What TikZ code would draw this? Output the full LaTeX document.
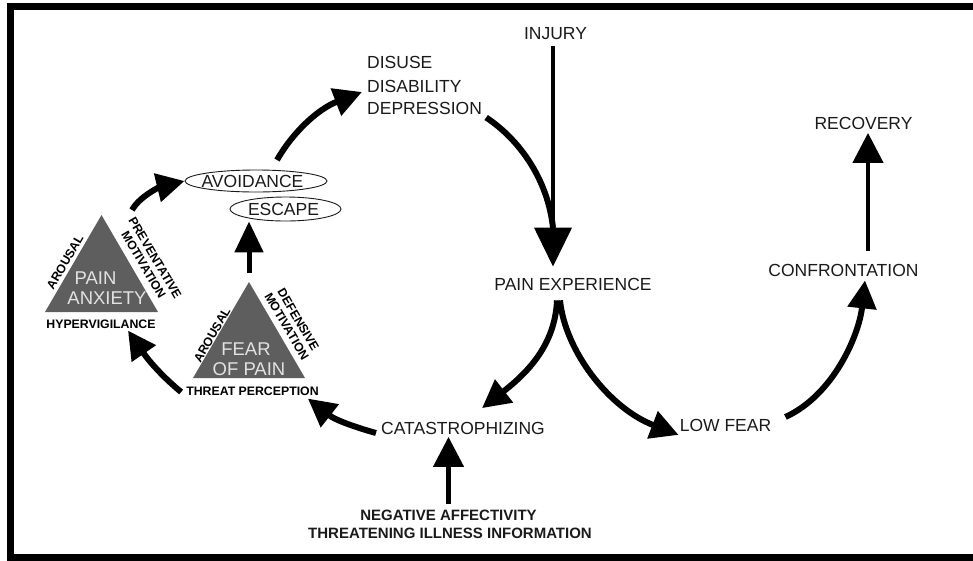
\documentclass[tikz,border=0pt]{standalone}
\usepackage{fontspec}
\setmainfont{Liberation Sans}
\usetikzlibrary{arrows.meta,shapes.geometric,calc}
\definecolor{trigray}{HTML}{5E5E5E}
\definecolor{trilight}{HTML}{E2E2E2}
\definecolor{inkc}{HTML}{1A1A1A}
\begin{document}
\begin{tikzpicture}[x=1pt,y=-1pt,
  lbl/.style={font=\fontsize{17.5}{20}\selectfont, inner sep=0pt, text=inkc},
  small/.style={font=\bfseries\fontsize{12.3}{13.4}\selectfont, inner sep=0pt, align=center, text=black},
  bottomtxt/.style={font=\bfseries\fontsize{15}{17}\selectfont, inner sep=0pt, text=inkc},
  tritext/.style={font=\fontsize{18.5}{20}\selectfont, inner sep=0pt, text=trilight},
  oval/.style={ellipse, draw=inkc, line width=0.9pt, inner sep=0pt},
  trifill/.style={fill=trigray},
  bigarr/.style={line width=6pt, draw=black, -{Triangle[length=28pt,width=28pt]}},
  thinarr/.style={line width=4.5pt, draw=black, -{Triangle[length=30pt,width=30pt]}},
  plainthick/.style={line width=6pt, draw=black}
]
\useasboundingbox (0,0) rectangle (973,560);
\begin{scope}
  \clip (0,0) rectangle (973,560);
  \draw[line width=7pt] (10.5,6.8) rectangle (995,557.5);
\end{scope}

% ---------- text nodes ----------
\node[lbl] (injury) at (555.5,34) {INJURY};
\node[lbl,anchor=west] (disuse) at (367,62.5) {DISUSE};
\node[lbl,anchor=west] (disab) at (367,86.5) {DISABILITY};
\node[lbl,anchor=west] (depr) at (367,108.5) {DEPRESSION};
\node[lbl] (pe) at (573,284) {PAIN EXPERIENCE};
\node[lbl] (cat) at (463,428.5) {CATASTROPHIZING};
\node[lbl] (low) at (725.5,425) {LOW FEAR};
\node[lbl] (conf) at (843.5,270) {CONFRONTATION};
\node[lbl] (recov) at (863.5,123.5) {RECOVERY};
\node[bottomtxt] (neg) at (448.5,515) {NEGATIVE AFFECTIVITY};
\node[bottomtxt] (thr) at (450,533) {THREATENING ILLNESS INFORMATION};

% ---------- ellipses ----------
\node[oval, minimum width=142pt, minimum height=22pt] (avoid) at (256,181) {};
\node[lbl] (avoidtxt) at (252.5,181) {AVOIDANCE};
\node[oval, minimum width=111pt, minimum height=24pt] (esc) at (285.5,209) {};
\node[lbl] (esctxt) at (283.5,209) {ESCAPE};

% ---------- pain anxiety triangle ----------
\coordinate (pa1) at (45,312);
\coordinate (pa2) at (158,312);
\coordinate (pa3) at (101.5,215);
\fill[trifill] (pa1) -- (pa2) -- (pa3) -- cycle;
\node[tritext] (pain) at (95.5,278.5) {PAIN};
\node[tritext] (anx) at (107,298.5) {ANXIETY};
\node[small] (hyper) at (101,324) {HYPERVIGILANCE};
\node[small, rotate=59.6] (ar1) at (65,262) {AROUSAL};
\node[small, rotate=-59.6] (pm) at (149.3,261.4) {PREVENTATIVE\\MOTIVATION};

% ---------- fear of pain triangle ----------
\coordinate (fp1) at (193,378);
\coordinate (fp2) at (305,378);
\coordinate (fp3) at (249,282);
\fill[trifill] (fp1) -- (fp2) -- (fp3) -- cycle;
\node[tritext] (fear) at (246,349) {FEAR};
\node[tritext] (ofpain) at (249,369) {OF PAIN};
\node[small] (threat) at (252.5,391) {THREAT PERCEPTION};
\node[small, rotate=60.2] (ar2) at (212,335) {AROUSAL};
\node[small, rotate=-59.7] (dm) at (292.5,323.1) {DEFENSIVE\\MOTIVATION};

% ---------- connectors ----------
\coordinate (paout) at (132,210);
\draw[bigarr] (paout) .. controls (140,196) and (160,187) .. (avoid.west);
\coordinate (avout) at (277,160);
\coordinate (dtip) at (362,92);
\draw[bigarr] (avout) .. controls (293,132) and (318,109) .. (dtip);
\coordinate (join) at (553,228);
\draw[plainthick] ([shift={(4,9)}]depr.east) .. controls (520,140) and (548,180) .. (join);
\draw[line width=4pt, -{Triangle[length=39pt,width=37pt]}]
  ([shift={(-2.5,6)}]injury.south) -- ([shift={(-20,-11)}]pe.north);
\draw[bigarr] ([shift={(-16,10)}]pe.south) .. controls +(-2,45) and +(45,-35) .. ([shift={(19,-14)}]cat.north);
\draw[bigarr] ([shift={(-13,10)}]pe.south) .. controls +(5,50) and +(-70,-27) .. ([shift={(-1,3.5)}]low.south west);
\draw[bigarr] ([shift={(14,-8)}]low.east) .. controls +(48,-22) and +(-6,55) .. ([shift={(21.5,4)}]conf.south);
\coordinate (rx) at (868,0);
\draw[thinarr, shorten <=13pt, shorten >=3pt] (conf.north -| rx) -- (recov.south -| rx);
\draw[thinarr, shorten <=6pt, shorten >=2pt] (neg.north) -- (neg.north |- cat.south);
\draw[bigarr] ([shift={(-5,4.5)}]cat.west) .. controls +(-18,-5) and +(28,22) .. ([shift={(-11,3)}]threat.south east);
\draw[bigarr] ([shift={(-5,1)}]threat.west) .. controls +(-17,-14) and +(22,32) .. ([shift={(27,2)}]hyper.south);
\draw[thinarr, line width=5pt, -{Triangle[length=31pt,width=28pt]}, shorten <=9pt] (fp3) -- (fp3 |- esc.south);
\end{tikzpicture}
\end{document}
